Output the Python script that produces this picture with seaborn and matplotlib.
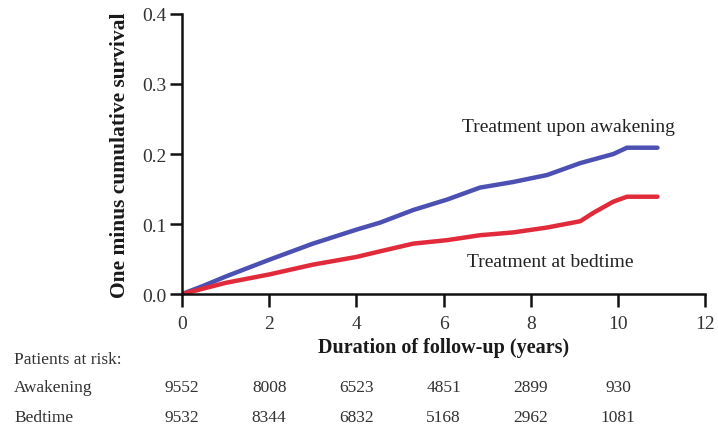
import pandas as pd
import matplotlib.pyplot as plt
import matplotlib.transforms as mtransforms
import seaborn as sns

# Curves (years, one minus cumulative survival)
awake_x = [0, 0.5, 1.0, 2.0, 3.0, 4.0, 4.54, 5.3, 6.08, 6.83, 7.59, 8.37, 9.13, 9.89, 10.2, 10.9]
awake_y = [0, 0.012, 0.025, 0.049, 0.072, 0.092, 0.102, 0.120, 0.135, 0.152, 0.160, 0.170, 0.187, 0.200, 0.209, 0.209]
bed_x = [0, 0.5, 1.0, 2.0, 3.0, 4.0, 4.54, 5.3, 6.08, 6.83, 7.59, 8.37, 9.13, 9.43, 9.89, 10.2, 10.9]
bed_y = [0, 0.008, 0.016, 0.028, 0.042, 0.053, 0.061, 0.072, 0.077, 0.084, 0.088, 0.095, 0.104, 0.116, 0.132, 0.139, 0.139]

risk_awake = [9552, 8008, 6523, 4851, 2899, 930]
risk_bed = [9532, 8344, 6832, 5168, 2962, 1081]
risk_years = [0, 2, 4, 6, 8, 10]
risk_rows = ["Awakening", "Bedtime"]

df = pd.concat([
    pd.DataFrame({"t": awake_x, "y": awake_y, "grp": "awake"}),
    pd.DataFrame({"t": bed_x, "y": bed_y, "grp": "bed"}),
])

sns.set_style("ticks")
plt.rcParams['font.family'] = ['Liberation Serif', 'DejaVu Serif']

fig = plt.figure(figsize=(7.18, 4.27), dpi=100)
ax = fig.add_axes([0.2535, 0.309, 0.729, 0.656])

sns.lineplot(data=df, x="t", y="y", hue="grp", palette={"awake": "#4b50b2", "bed": "#e12a3a"},
             linewidth=3.2, legend=False, ax=ax)

ax.set_xlim(0, 12)
ax.set_ylim(0, 0.4)
ax.set_xticks(range(0, 13, 2))
ax.set_yticks([0, 0.1, 0.2, 0.3, 0.4])
ax.set_yticklabels(["0.0", "0.1", "0.2", "0.3", "0.4"])
sns.despine(ax=ax)
for s in ["left", "bottom"]:
    ax.spines[s].set_linewidth(1.8)
    ax.spines[s].set_color("#111111")
ax.tick_params(length=9, width=1.8, color="#111111", labelsize=14, labelcolor="#333333")
ax.tick_params(axis="x", pad=6)
ax.tick_params(axis="y", pad=2)

ax.set_xlabel("Duration of follow-up (years)", fontsize=14.5, fontweight="bold", color="#1a1a1a", labelpad=4)
ax.set_ylabel("One minus cumulative survival", fontsize=15.5, fontweight="bold", color="#1a1a1a", labelpad=9)

ax.text(8.86, 0.239, "Treatment upon awakening", ha="center", va="center", fontsize=14, color="#222222")
ax.text(8.45, 0.047, "Treatment at bedtime", ha="center", va="center", fontsize=14, color="#222222")

# patients at risk table
fig.text(14 / 718, 1 - 360 / 427, "Patients at risk:", fontsize=12.5, color="#333333", va="center")
trans = mtransforms.blended_transform_factory(ax.transData, fig.transFigure)
for row, vals, ypx in [(risk_rows[0], risk_awake, 388), (risk_rows[1], risk_bed, 418)]:
    fig.text(14 / 718, 1 - ypx / 427, row, fontsize=12.5, color="#333333", va="center")
    for yr, v in zip(risk_years, vals):
        ax.text(yr, 1 - ypx / 427, str(v), transform=trans, fontsize=12.5, color="#333333",
                va="center", ha="center", clip_on=False)

fig.savefig("out.png", dpi=100)
